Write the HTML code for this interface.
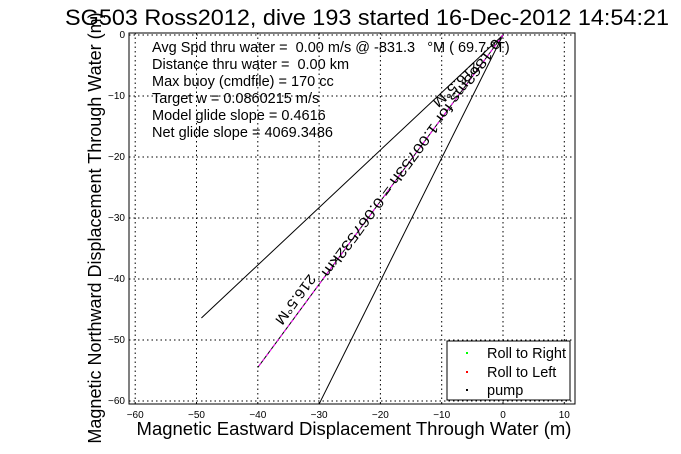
<!DOCTYPE html>
<html><head><meta charset="utf-8"><style>
body{margin:0;background:#fff;}
svg{display:block;font-family:"Liberation Sans",sans-serif;}
text{white-space:pre;}
</style></head><body>
<svg id="chart" width="681" height="454" viewBox="0 0 681 454" xmlns="http://www.w3.org/2000/svg" xml:space="preserve">
<rect width="681" height="454" fill="#fff"/>
<text x="367" y="25" font-size="22" text-anchor="middle" textLength="604" lengthAdjust="spacingAndGlyphs">SG503 Ross2012, dive 193 started 16-Dec-2012 14:54:21</text>
<g id="grid"></g>
<g id="ticks"></g>
<g id="series"></g>
<rect x="129" y="33" width="446" height="371" fill="none" stroke="#000" stroke-width="1"/>
<g font-size="14.5">
<text x="152" y="52">Avg Spd thru water =  0.00 m/s @ -831.3   °M ( 69.7 °T)</text>
<text x="152" y="69">Distance thru water =  0.00 km</text>
<text x="152" y="86">Max buoy (cmdfile) = 170 cc</text>
<text x="152" y="103">Target w = 0.0860215 m/s</text>
<text x="152" y="120">Model glide slope = 0.4616</text>
<text x="152" y="137">Net glide slope = 4069.3486</text>
</g>
<text x="354" y="435" font-size="18.5" text-anchor="middle">Magnetic Eastward Displacement Through Water (m)</text>
<text transform="translate(101,228) rotate(-90)" font-size="18" text-anchor="middle">Magnetic Northward Displacement Through Water (m)</text>
<g>
<rect x="447" y="341" width="123" height="59" fill="#fff" stroke="#000"/>
<rect x="466" y="352" width="2" height="2" fill="#0f0"/><text x="487" y="358" font-size="14.5">Roll to Right</text>
<rect x="466" y="371" width="2" height="2" fill="#f00"/><text x="487" y="377" font-size="14.5">Roll to Left</text>
<rect x="466" y="389" width="2" height="2" fill="#000"/><text x="487" y="395" font-size="14.5">pump</text>
</g>
</svg>
<script>
const xTicks=[-60,-50,-40,-30,-20,-10,0,10];
const yTicks=[0,-10,-20,-30,-40,-50,-60];
const leftLineX=[0,-49.2], leftLineY=[0,-46.4];
const rightLineX=[0,-30], rightLineY=[0,-60.5];
const midLineX=[0,-40], midLineY=[0,-54.5];
const midLabel="0.1863ms for 1.00753h = 0.067532km";
const headLabel="216.5°M";
const NS="http://www.w3.org/2000/svg";
const sx=v=>503+v*6.13, sy=v=>35-v*6.1;
function mk(t,a,p){const e=document.createElementNS(NS,t);for(const k in a)e.setAttribute(k,a[k]);p.appendChild(e);return e;}
const grid=document.getElementById('grid'),ticks=document.getElementById('ticks'),ser=document.getElementById('series');
xTicks.forEach(v=>{
 const g=mk('line',{x1:sx(v),x2:sx(v),y1:33,y2:404,stroke:'#000','stroke-dasharray':'1.5,3'},grid);
 
 
 const t=mk('text',{x:sx(v),y:418,'font-size':10,'text-anchor':'middle'},ticks);t.textContent=v===0?'0':String(v).replace('-','\u2212');
 
 
});
yTicks.forEach(v=>{
 const g=mk('line',{x1:129,x2:575,y1:sy(v),y2:sy(v),stroke:'#000','stroke-dasharray':'1.5,3'},grid);
 
 
 const t=mk('text',{x:125,y:sy(v)+3,'font-size':10,'text-anchor':'end'},ticks);t.textContent=v===0?'0':String(v).replace('-','\u2212');
 
 
});
function line(X,Y,name,stroke,dash){
 const l=mk('line',{x1:sx(X[0]),y1:sy(Y[0]),x2:sx(X[1]),y2:sy(Y[1]),stroke:stroke,'stroke-width':1},ser);
 if(dash)l.setAttribute('stroke-dasharray',dash);
 
 
}
line(leftLineX,leftLineY,'left-bound-line','#000');
line(rightLineX,rightLineY,'right-bound-line','#000');
line(midLineX,midLineY,'track-line','#000');
line(midLineX,midLineY,'track-line-magenta','#f0f','3,3');
const angOf=(X,Y)=>Math.atan2(sy(Y[1])-sy(Y[0]),sx(X[1])-sx(X[0]))*180/Math.PI;
const angMid=angOf(midLineX,midLineY), angLeft=angOf(leftLineX,leftLineY);
function lbl(txt,x,y,ang,len,name){
 const t=mk('text',{x:0,y:5,'font-size':14,'text-anchor':'middle',transform:`translate(${x},${y}) rotate(${ang})`},ser);
 if(len){t.setAttribute('textLength',len);t.setAttribute('lengthAdjust','spacingAndGlyphs');}
 t.textContent=txt;
 
 
}
lbl(midLabel,sx(-14.9),sy(-20.2),angMid,292,'track-label');
lbl(headLabel,sx(-7.6),sy(-8.2),angLeft,58,'heading-label-top');
lbl(headLabel,sx(-33.8),sy(-43.4),angMid,58,'heading-label-bottom');
</script>
</body></html>
